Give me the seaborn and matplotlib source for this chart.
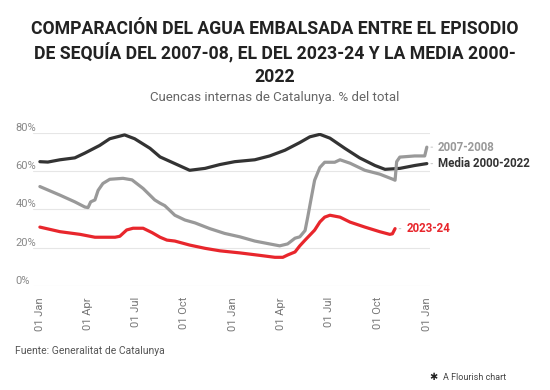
import matplotlib
matplotlib.use("Agg")
import matplotlib.pyplot as plt
import matplotlib.dates as mdates
import pandas as pd
import seaborn as sns

# days counted from 01 Jan 2023, values in % of total capacity
media_days = [0, 15, 38, 66, 85, 113, 132, 160, 179, 208, 227, 255, 283, 312, 340,
              368, 406, 434, 463, 491, 510, 529, 548, 576, 604, 633, 652, 680, 708, 731]
media_vals = [65, 64.8, 66, 67, 69.5, 73.5, 77, 79, 77, 72, 67.5, 64, 60.5, 61.5, 63.5,
              65, 66, 68, 71, 75, 78, 79.3, 77.3, 72, 67, 63, 61, 61.5, 63, 64]

s0708_days = [0, 38, 66, 85, 91, 96, 104, 110, 119, 132, 157, 174, 195, 217, 227, 236,
              255, 274, 293, 321, 349, 378, 406, 434, 453, 468, 482, 491, 501, 506, 512,
              519, 529, 538, 557, 567, 586, 614, 642, 667, 671, 674, 680, 708, 727, 731]
s0708_vals = [52, 47.5, 44, 41.3, 41, 44, 45, 50, 53.6, 55.8, 56.3, 55.5, 51, 45, 43.3, 42,
              37, 34.5, 33, 30, 27.5, 25.7, 23.5, 22, 21, 22, 25, 25.7, 29, 36, 45,
              55.3, 62, 64.7, 64.7, 66, 64.2, 60.5, 58.5, 55.8, 55.3, 65, 67.4, 68, 68, 72.6]

s2324_days = [0, 38, 76, 104, 142, 151, 164, 176, 195, 212, 227, 240, 255, 283, 312, 340,
              378, 416, 444, 459, 468, 482, 491, 501, 510, 519, 529, 538, 548, 567, 586,
              614, 642, 661, 666, 671]
s2324_vals = [30.8, 28.4, 27, 25.5, 25.5, 26, 29.3, 30.2, 30.2, 27.9, 25.5, 24, 23.5, 21.4,
              19.7, 18.4, 17.3, 16, 15, 15, 16.2, 17.8, 21, 24, 26.6, 29.2, 33.5, 36, 37,
              36, 33.4, 30.8, 28.4, 27, 27.3, 30]

series_names = ["Media 2000-2022", "2007-2008", "2023-24"]
series_colors = ["#333333", "#999999", "#e8262c"]
label_texts = ["Media 2000-2022", "2007-2008", "2023-24"]

start = pd.Timestamp("2023-01-01")
frames = []
for name, days, vals in zip(series_names,
                            [media_days, s0708_days, s2324_days],
                            [media_vals, s0708_vals, s2324_vals]):
    frames.append(pd.DataFrame({"fecha": start + pd.to_timedelta(days, unit="D"),
                                "valor": vals, "serie": name}))
df = pd.concat(frames, ignore_index=True)

sns.set_style("white")
plt.rcParams["font.family"] = ["Roboto", "DejaVu Sans"]

fig = plt.figure(figsize=(5.5, 3.9), dpi=100)
ax = fig.add_axes([33 / 550, 1 - 286 / 390, (430 - 33) / 550, (286 - 133) / 390])

sns.lineplot(data=df, x="fecha", y="valor", hue="serie", hue_order=series_names,
             palette=series_colors, linewidth=2.3, legend=False, ax=ax)

ax.set_xlim(start - pd.Timedelta(days=13), start + pd.Timedelta(days=737))
ax.set_ylim(0, 80)
for s in ax.spines.values():
    s.set_visible(False)
ax.yaxis.grid(True, color="#e6e6e6", linewidth=0.8)
ax.xaxis.grid(False)
ax.set_axisbelow(True)

ax.set_yticks([0, 20, 40, 60, 80])
ax.set_yticklabels([f"{v}%" for v in [0, 20, 40, 60, 80]])
ax.tick_params(axis="y", length=0, pad=12.5, labelsize=8, labelcolor="#888888")
for lab in ax.get_yticklabels():
    lab.set_ha("left")
    lab.set_va("bottom")

xticks = pd.date_range("2023-01-01", "2025-01-01", freq="QS")
ax.set_xticks(xticks)
ax.xaxis.set_major_formatter(mdates.DateFormatter("%d %b"))
ax.tick_params(axis="x", length=0, pad=8, labelsize=8, labelcolor="#777777",
               labelrotation=90)
ax.set_xlabel("")
ax.set_ylabel("")

for name, color, text in zip(series_names, series_colors, label_texts):
    sub = df[df["serie"] == name]
    ax.annotate(text, xy=(sub["fecha"].iloc[-1], sub["valor"].iloc[-1]),
                xytext=(8, 0), textcoords="offset points", ha="left", va="center",
                fontsize=8.3, fontweight="bold", color=color,
                annotation_clip=False,
                arrowprops=dict(arrowstyle="-", color="#cccccc", lw=0.8,
                                shrinkA=1.5, shrinkB=3))

fig.text(0.5, 1 - 20 / 390,
         "COMPARACIÓN DEL AGUA EMBALSADA ENTRE EL EPISODIO\n"
         "DE SEQUÍA DEL 2007-08, EL DEL 2023-24 Y LA MEDIA 2000-\n2022",
         ha="center", va="top", fontsize=12.7, fontweight="bold", color="#222222",
         linespacing=1.3)
fig.text(0.5, 1 - 97 / 390, "Cuencas internas de Catalunya. % del total",
         ha="center", va="center", fontsize=9.5, color="#666666")
fig.text(15 / 550, 1 - 351 / 390, "Fuente: Generalitat de Catalunya",
         ha="left", va="center", fontsize=7.5, color="#555555")
fig.text(506 / 550, 1 - 377 / 390, "A Flourish chart", ha="right", va="center",
         fontsize=6.5, color="#444444")
fig.text(433 / 550, 1 - 377 / 390, "✱", ha="center", va="center",
         fontsize=7, color="#222222", family=["DejaVu Sans"])

fig.savefig("out.png", dpi=100)
